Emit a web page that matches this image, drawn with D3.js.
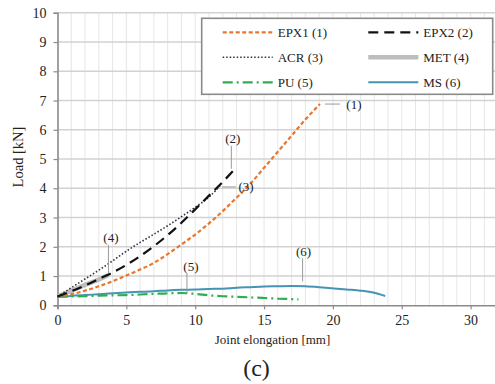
<!DOCTYPE html>
<html>
<head>
<meta charset="utf-8">
<script src="https://cdn.jsdelivr.net/npm/d3@7"></script>
<style>
  body { margin: 0; background: #fff; }
  text { font-family: "Liberation Serif", "Times New Roman", serif; fill: #222; }
</style>
</head>
<body>
<div id="chart"></div>
<script>
// data: [joint elongation mm, load kN]
var epx1 = [[0,0.3],[1,0.38],[2,0.5],[3,0.65],[4,0.82],[5,1.02],[6,1.22],[7,1.45],[8,1.75],[9,2.08],[10,2.42],[11,2.8],[12,3.22],[13,3.68],[14,4.15],[15,4.7],[16,5.25],[17,5.8],[18,6.35],[19.06,6.88]];
var epx2 = [[0,0.3],[1,0.48],[2,0.68],[3,0.9],[4,1.12],[5,1.38],[6,1.68],[7,2.02],[8,2.4],[9,2.82],[10,3.28],[11,3.75],[12,4.22],[12.77,4.6]];
var acr  = [[0,0.3],[1,0.6],[2,0.9],[3,1.2],[4,1.52],[5,1.85],[6,2.15],[7,2.43],[8,2.72],[9,3.03],[10,3.35],[11,3.7],[11.8,4.08]];
var met  = [[0,0.3],[1,0.5],[2,0.7],[3,0.88],[3.7,1.04]];
var pu   = [[0,0.3],[1,0.3],[2,0.31],[3,0.33],[4,0.34],[5,0.35],[6,0.37],[7,0.39],[8,0.41],[9,0.42],[10,0.39],[11,0.34],[12,0.31],[13,0.29],[14,0.27],[15,0.25],[16,0.23],[17,0.21],[17.5,0.2]];
var ms   = [[0,0.3],[1,0.32],[2,0.35],[3,0.38],[4,0.41],[5,0.44],[6,0.46],[7,0.48],[8,0.51],[9,0.53],[10,0.54],[11,0.56],[12,0.57],[13,0.6],[14,0.62],[15,0.64],[16,0.65],[17,0.66],[18,0.65],[19,0.62],[20,0.58],[21,0.54],[22,0.5],[23,0.43],[23.8,0.32]];

var seriesNames = ["EPX1 (1)", "EPX2 (2)", "ACR (3)", "MET (4)", "PU (5)", "MS (6)"];
var xTicks = [0, 5, 10, 15, 20, 25, 30];
var yTicks = [0, 1, 2, 3, 4, 5, 6, 7, 8, 9, 10];

var svgWidth = 495, svgHeight = 384;
var margin = {top: 12.8, left: 57.5, bottom: 78.7};

var svg = d3.select("#chart").append("svg")
  .attr("width", svgWidth)
  .attr("height", svgHeight);

var x = d3.scaleLinear().domain([0, 32]).range([margin.left, margin.left + 32 * 13.77]);
var y = d3.scaleLinear().domain([0, 10]).range([svgHeight - margin.bottom, margin.top]);

// minor vertical grid every 1 mm
svg.append("g").selectAll("line")
  .data(d3.range(1, 33))
  .enter().append("line")
  .attr("x1", d => x(d)).attr("x2", d => x(d))
  .attr("y1", y(10)).attr("y2", y(0))
  .attr("stroke", "#e6e6e6").attr("stroke-width", 1);

// horizontal grid
svg.append("g").selectAll("line")
  .data(yTicks.slice(1))
  .enter().append("line")
  .attr("x1", x(0)).attr("x2", svgWidth)
  .attr("y1", d => y(d)).attr("y2", d => y(d))
  .attr("stroke", "#d2d2d2").attr("stroke-width", 1.6);

// axes
var xAxis = svg.append("g")
  .attr("transform", `translate(0, ${y(0)})`)
  .call(d3.axisBottom(x).tickValues(xTicks).tickSize(4).tickPadding(6));
var yAxis = svg.append("g")
  .attr("transform", `translate(${x(0)}, 0)`)
  .call(d3.axisLeft(y).tickValues(yTicks).tickSize(4).tickPadding(7));

[xAxis, yAxis].forEach(function(a) {
  a.select(".domain").attr("stroke", "#8a8a8a").attr("stroke-width", 1.6);
  a.selectAll(".tick line").attr("stroke", "#8a8a8a").attr("stroke-width", 1.2);
  a.selectAll(".tick text")
    .attr("font-family", "Liberation Serif")
    .attr("font-size", 14)
    .attr("fill", "#222");
});

var line = d3.line()
  .x(d => x(d[0]))
  .y(d => y(d[1]))
  .curve(d3.curveMonotoneX);

var styles = [
  {data: epx1, color: "#e8762c", width: 2.2, dash: "4,2.5"},
  {data: epx2, color: "#111111", width: 2.2, dash: "10,6"},
  {data: acr, color: "#2e2e48", width: 1.6, dash: "1.5,2"},
  {data: met, color: "#bdbdbd", width: 4.5, dash: null},
  {data: pu, color: "#2fae4f", width: 2.2, dash: "10,4,2,4"},
  {data: ms, color: "#4494b3", width: 2, dash: null}
];

// draw order: lower layers first
[3, 5, 4, 0, 2, 1].forEach(function(i) {
  var s = styles[i];
  svg.append("path")
    .datum(s.data)
    .attr("d", line)
    .attr("fill", "none")
    .attr("stroke", s.color)
    .attr("stroke-width", s.width)
    .attr("stroke-dasharray", s.dash);
});

// callout labels
var lab = svg.append("g");
function callout(lx, ly, x1, y1, x2, y2, txt) {
  lab.append("line")
    .attr("x1", x1).attr("y1", y1).attr("x2", x2).attr("y2", y2)
    .attr("stroke", "#9a9a9a").attr("stroke-width", 1);
  lab.append("text")
    .attr("x", lx).attr("y", ly)
    .attr("text-anchor", "middle")
    .attr("font-size", 13)
    .text(txt);
}
var e1 = epx1[epx1.length - 1], e2 = epx2[epx2.length - 1], e3 = acr[acr.length - 1], e4 = met[met.length - 1];
callout(x(e1[0]) + 34, y(e1[1]) + 4.5, x(e1[0]) + 5, y(e1[1]), x(e1[0]) + 20, y(e1[1]), "(1)");
callout(x(e2[0]) - 0.5, y(e2[1]) - 28, x(e2[0]) - 2, y(e2[1]) - 2, x(e2[0]) - 2, y(e2[1]) - 25, "(2)");
callout(x(e3[0]) + 26, y(e3[1]) + 5, x(e3[0]) + 2, y(e3[1]) + 1, x(e3[0]) + 16, y(e3[1]) + 1, "(3)");
callout(x(e4[0]) + 2.5, y(e4[1]) - 33, x(e4[0]), y(e4[1]) - 2, x(e4[0]), y(e4[1]) - 30, "(4)");
callout(x(9.4) + 4, y(0.42) - 22, x(9.4), y(0.44), x(9.4), y(0.44) - 19, "(5)");
callout(x(17.8) + 1, y(0.65) - 30, x(17.8), y(0.65) - 5, x(17.8), y(0.65) - 28, "(6)");

// legend
var legend = svg.append("g");
legend.append("rect")
  .attr("x", 201.7).attr("y", 18.3)
  .attr("width", 291).attr("height", 76)
  .attr("fill", "#fff")
  .attr("stroke", "#8a8a8a").attr("stroke-width", 1.6);

seriesNames.forEach(function(name, i) {
  var col = i % 2, row = Math.floor(i / 2);
  var lx = col === 0 ? 222.7 : 368.3;
  var ly = 32.3 + row * 25;
  var s = styles[i];
  legend.append("line")
    .attr("x1", lx).attr("x2", lx + 50)
    .attr("y1", ly).attr("y2", ly)
    .attr("stroke", s.color)
    .attr("stroke-width", s.width)
    .attr("stroke-dasharray", s.dash);
  legend.append("text")
    .attr("x", lx + 55).attr("y", ly + 4.8)
    .attr("font-size", 13)
    .text(name);
});

// axis titles
svg.append("text")
  .attr("x", 272.5).attr("y", 344)
  .attr("text-anchor", "middle")
  .attr("font-size", 13)
  .text("Joint elongation [mm]");

svg.append("text")
  .attr("transform", "translate(23, 157) rotate(-90)")
  .attr("text-anchor", "middle")
  .attr("font-size", 14.5)
  .text("Load [kN]");

svg.append("text")
  .attr("x", 256.5).attr("y", 376)
  .attr("text-anchor", "middle")
  .attr("font-size", 24)
  .text("(c)");
</script>
</body>
</html>
